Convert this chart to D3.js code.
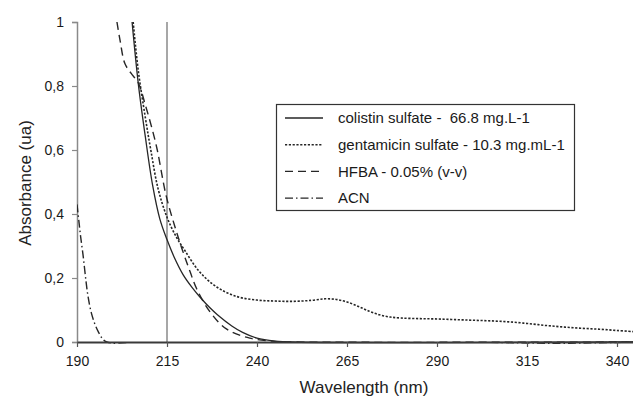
<!DOCTYPE html>
<html>
<head>
<meta charset="utf-8">
<script src="https://cdn.jsdelivr.net/npm/d3@7"></script>
<style>
  body { margin: 0; background: #fff; }
  svg { display: block; font-family: "Liberation Sans", Arial, sans-serif; }
</style>
</head>
<body>
<svg width="633" height="397"></svg>
<script>
// spectra: [wavelength nm, absorbance]
var colistin = [[205.3, 1.0], [207, 0.81], [209, 0.64], [211, 0.49], [213, 0.385], [215, 0.32],
  [217, 0.265], [219.5, 0.21], [222, 0.17], [224.2, 0.14], [227, 0.106], [229, 0.085], [233, 0.05],
  [236, 0.03], [240, 0.012], [245, 0.003], [250, 0], [345, 0]];
var gentamicin = [[205.6, 1.0], [207, 0.85], [209, 0.7], [210.5, 0.6], [212.5, 0.48], [215, 0.39],
  [217.5, 0.33], [220, 0.285], [224, 0.22], [228.8, 0.172], [234.4, 0.142], [240, 0.131],
  [245, 0.128], [250, 0.127], [255, 0.13], [259, 0.135], [262, 0.133], [265, 0.125], [268, 0.112],
  [271, 0.097], [274, 0.085], [277, 0.078], [280, 0.075], [285, 0.073], [290, 0.072], [295, 0.07],
  [300, 0.068], [305, 0.066], [310, 0.063], [315, 0.058], [320, 0.052], [325, 0.047], [330, 0.043],
  [335, 0.04], [340, 0.036], [345, 0.032]];
var hfba = [[201.1, 1.0], [202, 0.94], [203.3, 0.87], [205, 0.84], [207, 0.81], [209, 0.74],
  [211, 0.66], [212.3, 0.6], [214.7, 0.46], [217.2, 0.36], [219.2, 0.29], [221.4, 0.22],
  [223.3, 0.165], [226.9, 0.095], [231.6, 0.04], [238, 0.012], [245, 0.002], [250, 0], [345, 0]];
var acn = [[190, 0.43], [190.5, 0.38], [191, 0.33], [191.7, 0.27], [192.5, 0.19], [193.1, 0.14],
  [194, 0.09], [195, 0.055], [196, 0.03], [197, 0.012], [198.3, 0], [345, 0]];

var seriesNames = ["colistin sulfate -  66.8 mg.L-1", "gentamicin sulfate - 10.3 mg.mL-1",
  "HFBA - 0.05% (v-v)", "ACN"];
var xTicks = [190, 215, 240, 265, 290, 315, 340];
var yTicks = [0, 0.2, 0.4, 0.6, 0.8, 1];

var svg = d3.select("svg");
var x = d3.scaleLinear().domain([190, 345]).range([77, 635]);
var y = d3.scaleLinear().domain([0, 1]).range([342, 22]);

var series = [
  { data: colistin, dash: null, w: 1.3 },
  { data: gentamicin, dash: "2.2,1.6", w: 1.6 },
  { data: hfba, dash: "8,5", w: 1.4 },
  { data: acn, dash: "8,3,1.5,3", w: 1.4 }
];

svg.append("clipPath").attr("id", "plot")
  .append("rect").attr("x", 77).attr("y", 18).attr("width", 560).attr("height", 326);

// vertical marker at 215 nm
svg.append("line")
  .attr("x1", x(215)).attr("x2", x(215))
  .attr("y1", y(1)).attr("y2", y(0))
  .attr("stroke", "#8a8a8a").attr("stroke-width", 1.5);

// y axis
var yAxis = svg.append("g")
  .attr("transform", "translate(77,0)")
  .call(d3.axisLeft(y).tickValues(yTicks).tickSize(5).tickPadding(8)
    .tickFormat(function (d) { return d === 0 || d === 1 ? d : String(d).replace(".", ","); }));
yAxis.select(".domain").attr("stroke", "#8a8a8a").attr("stroke-width", 1.5);
yAxis.selectAll(".tick line").attr("stroke", "#8a8a8a").attr("stroke-width", 1.2);
yAxis.selectAll("text").attr("font-size", 14).attr("fill", "#1a1a1a");

var line = d3.line()
  .x(function (d) { return x(d[0]); })
  .y(function (d) { return y(d[1]); })
  .curve(d3.curveCatmullRom);

svg.append("g").attr("clip-path", "url(#plot)")
  .selectAll("path")
  .data(series)
  .enter().append("path")
  .attr("d", function (d) { return line(d.data); })
  .attr("fill", "none")
  .attr("stroke", "#262626")
  .attr("stroke-width", function (d) { return d.w; })
  .attr("stroke-dasharray", function (d) { return d.dash; });

// x axis
var xAxis = svg.append("g")
  .attr("transform", "translate(0,342)")
  .call(d3.axisBottom(x).tickValues(xTicks).tickSize(5).tickPadding(9).tickSizeOuter(0));
xAxis.select(".domain").attr("stroke", "#3a3a3a").attr("stroke-width", 2);
xAxis.selectAll(".tick line").attr("stroke", "#555").attr("stroke-width", 1.2);
xAxis.selectAll("text").attr("font-size", 14).attr("fill", "#1a1a1a");

// axis titles
svg.append("text")
  .attr("x", 364).attr("y", 393)
  .attr("text-anchor", "middle").attr("font-size", 17).attr("fill", "#222")
  .text("Wavelength (nm)");
svg.append("text")
  .attr("transform", "translate(31,183) rotate(-90)")
  .attr("text-anchor", "middle").attr("font-size", 17).attr("fill", "#222")
  .text("Absorbance (ua)");

// legend
var legend = svg.append("g");
legend.append("rect")
  .attr("x", 276.5).attr("y", 104.5).attr("width", 298).attr("height", 106)
  .attr("fill", "#fff").attr("stroke", "#333").attr("stroke-width", 1.2);
var rows = legend.selectAll("g.row")
  .data(series)
  .enter().append("g")
  .attr("class", "row")
  .attr("transform", function (d, i) { return "translate(0," + (118 + i * 26.7) + ")"; });
rows.append("line")
  .attr("x1", 285).attr("x2", 323)
  .attr("stroke", "#262626")
  .attr("stroke-width", function (d) { return d.w; })
  .attr("stroke-dasharray", function (d) { return d.dash; });
rows.append("text")
  .attr("x", 338).attr("dy", "0.35em")
  .attr("font-size", 15).attr("fill", "#1a1a1a")
  .style("white-space", "pre")
  .text(function (d, i) { return seriesNames[i]; });
</script>
</body>
</html>
